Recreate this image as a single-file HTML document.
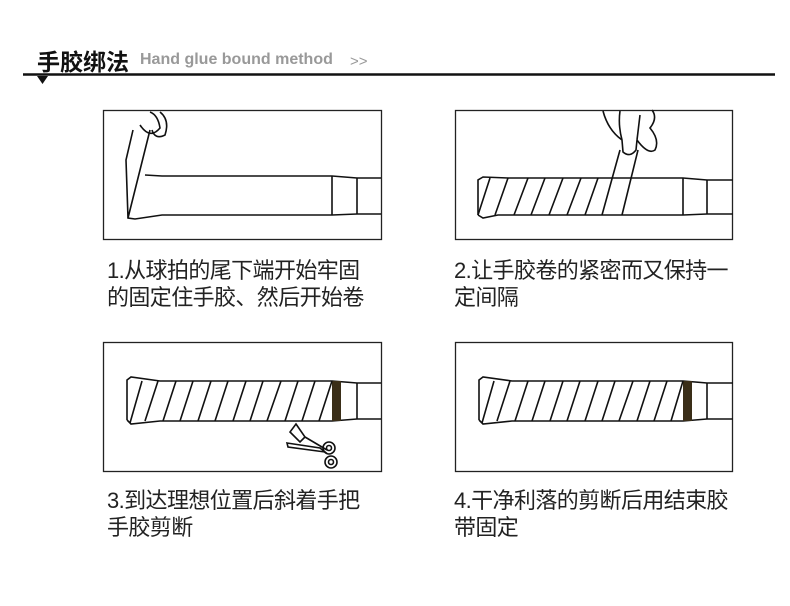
<!DOCTYPE html>
<html><head><meta charset="utf-8"><style>
body{margin:0;width:790px;height:606px;background:#fff;position:relative;overflow:hidden;font-family:"Liberation Sans","Noto Sans CJK SC",sans-serif}
.t{position:absolute;font-size:22px;line-height:27px;color:#222;white-space:nowrap;letter-spacing:-0.6px}
</style></head><body>
<div style="position:absolute;left:37px;top:43px;font-size:23px;font-weight:bold;color:#111;font-family:'Noto Sans CJK SC',sans-serif">手胶绑法</div>
<div style="position:absolute;left:140px;top:51px;font-size:16px;color:#999;font-weight:bold">Hand glue bound method</div>
<div style="position:absolute;left:350px;top:53px;font-size:15px;color:#999">&gt;&gt;</div>
<svg width="790" height="606" style="position:absolute;left:0;top:0" fill="none" stroke="#111" stroke-width="1.6">
<line x1="23" y1="74.5" x2="775" y2="74.5" stroke-width="2.5"/>
<polygon points="37,76 48,76 42.5,84" fill="#111" stroke="none"/>
<g stroke="#222" stroke-width="1.3">
<rect x="103.5" y="110.5" width="278" height="129"/>
<rect x="455.5" y="110.5" width="277" height="129"/>
<rect x="103.5" y="342.5" width="278" height="129"/>
<rect x="455.5" y="342.5" width="277" height="129"/>
</g>
<!-- box1 -->
<path d="M145,175 L162,176 L332,176 L357,178 L381,178"/>
<path d="M381,214 L357,214 L332,215 L162,215 L135,219 L128,218 L126,160 L133,130"/>
<path d="M332,176 V215 M357,178 V214 M128,218 L150,130 M140,125 Q150,140 160,128 Q158,115 150,112 M160,112 Q170,120 165,135 Q155,140 152,130"/>
<!-- box2 -->
<path d="M478,215 L478,180 L483,177 L508,178 L683,178 L707,180 L733,180"/>
<path d="M478,215 L483,218 L498,215 L683,215 L707,214 L733,214"/>
<path d="M683,178 V215 M707,180 V214"/>
<path d="M478,215 L490,178 M495,215 L508,178 M514,215 L528,178 M531,215 L545,178 M549,215 L563,178 M567,215 L581,178 M585,215 L598,178 M602,215 L620,150 M622,215 L638,150"/>
<path d="M603,111 Q608,130 622,140 L623,152 Q630,158 636,150 L637,140 Q648,155 655,150 Q660,140 650,128 Q658,118 652,110 M637,140 L640,115 M622,140 Q618,125 620,111"/>
<!-- box3 -->
<path d="M127,420 L127,380 L131,377 L160,381 L332,381 L357,383 L381,383"/>
<path d="M127,420 L131,424 L160,421 L332,421 L357,419 L381,419"/>
<rect x="332" y="381" width="9" height="40" fill="#3a2e18" stroke="none"/>
<path d="M357,383 V419"/>
<path d="M130,423 L142,381 M145,421 L158,381 M163,421 L176,381 M180,421 L193,381 M198,421 L211,381 M215,421 L228,381 M233,421 L246,381 M250,421 L263,381 M267,421 L281,381 M285,421 L298,381 M302,421 L315,381 M319,421 L332,381"/>
<path d="M296,424 L305,437 L300,442 L290,432 Z M305,437 L327,450 M287,443 L320,448 L325,452 L288,447 Z"/>
<circle cx="329" cy="448" r="6"/><circle cx="329" cy="448" r="2.5"/><circle cx="331" cy="462" r="6"/><circle cx="331" cy="462" r="2.5"/>
<!-- box4 -->
<path d="M479,420 L479,380 L483,377 L512,381 L683,381 L707,383 L733,383"/>
<path d="M479,420 L483,424 L512,421 L683,421 L707,419 L733,419"/>
<rect x="683" y="381" width="9" height="40" fill="#3a2e18" stroke="none"/>
<path d="M707,383 V419"/>
<path d="M482,423 L494,381 M497,421 L510,381 M515,421 L528,381 M532,421 L545,381 M550,421 L563,381 M567,421 L580,381 M585,421 L598,381 M602,421 L615,381 M619,421 L633,381 M637,421 L650,381 M654,421 L667,381 M671,421 L683,381"/>
</svg>
<div class="t" style="left:107px;top:257px">1.从球拍的尾下端开始牢固<br>的固定住手胶、然后开始卷</div>
<div class="t" style="left:454px;top:257px">2.让手胶卷的紧密而又保持一<br>定间隔</div>
<div class="t" style="left:107px;top:487px">3.到达理想位置后斜着手把<br>手胶剪断</div>
<div class="t" style="left:454px;top:487px">4.干净利落的剪断后用结束胶<br>带固定</div>
</body></html>
